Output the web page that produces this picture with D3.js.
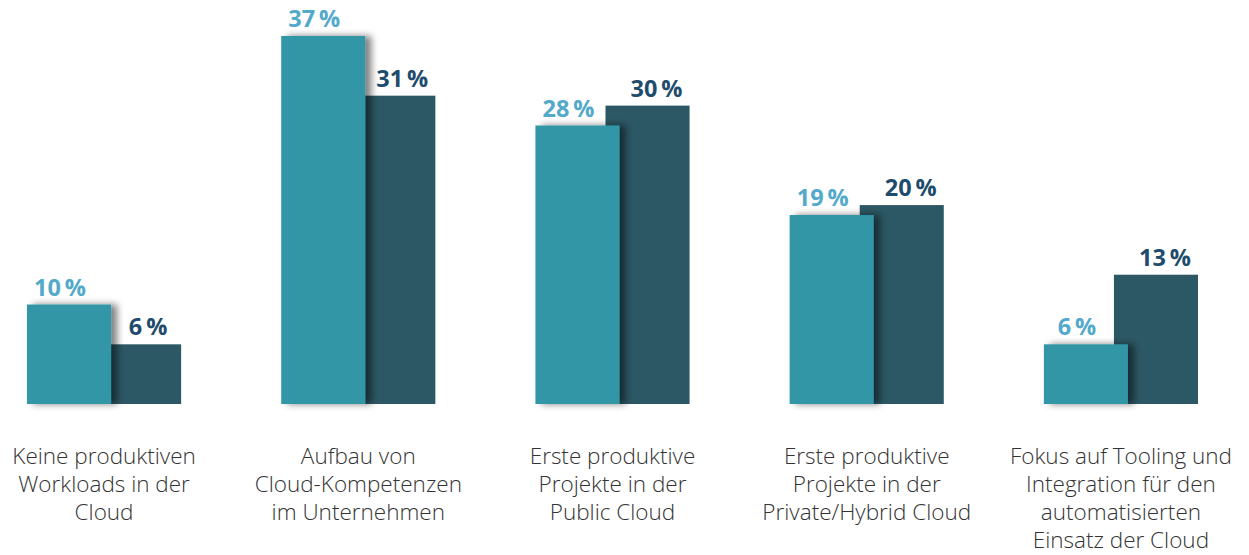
<!DOCTYPE html>
<html>
<head>
<meta charset="utf-8">
<script src="https://cdn.jsdelivr.net/npm/d3@7"></script>
<style>
  html, body { margin: 0; padding: 0; background: #fff; }
  svg { display: block; }
</style>
</head>
<body>
<svg id="chart" width="1249" height="555"></svg>
<script>
// Kategorien (Zeilen der Beschriftung)
const categories = [
  ["Keine produktiven", "Workloads in der", "Cloud"],
  ["Aufbau von", "Cloud-Kompetenzen", "im Unternehmen"],
  ["Erste produktive", "Projekte in der", "Public Cloud"],
  ["Erste produktive", "Projekte in der", "Private/Hybrid Cloud"],
  ["Fokus auf Tooling und", "Integration für den", "automatisierten", "Einsatz der Cloud"]
];
const series = ["a", "b"];
const valuesA = [10, 37, 28, 19, 6];
const valuesB = [6, 31, 30, 20, 13];

const colors = { a: "#3096a7", b: "#2c5764" };
const labelColors = { a: "#52a9c9", b: "#1f4c6d" };

const svg = d3.select("#chart");
const baseY = 404;

const keys = categories.map((c, i) => i);
const x0 = d3.scaleBand().domain(keys).range([27, 1198]).paddingInner(0.3937).paddingOuter(0);
const x1 = d3.scaleBand().domain(series).range([0, x0.bandwidth()]).paddingInner(-0.2);
const y = d3.scaleLinear().domain([0, 37]).range([baseY, 36]);

const defs = svg.append("defs");
const f = defs.append("filter").attr("id", "shadow")
  .attr("x", "-20%").attr("y", "-20%").attr("width", "160%").attr("height", "140%");
f.append("feDropShadow").attr("dx", 6).attr("dy", 0).attr("stdDeviation", 3.5)
  .attr("flood-color", "#000").attr("flood-opacity", 0.5);

const data = keys.map(i => ({ i, a: valuesA[i], b: valuesB[i] }));

const groups = svg.selectAll("g.group").data(data).join("g")
  .attr("class", "group")
  .attr("transform", d => `translate(${x0(d.i)},0)`);

// dunkle Balken zuerst, helle mit Schatten darüber
groups.append("rect")
  .attr("x", x1("b")).attr("width", x1.bandwidth())
  .attr("y", d => y(d.b)).attr("height", d => baseY - y(d.b))
  .attr("fill", colors.b);

groups.append("rect")
  .attr("x", x1("a")).attr("width", x1.bandwidth())
  .attr("y", d => y(d.a)).attr("height", d => baseY - y(d.a))
  .attr("fill", colors.a)
  .attr("filter", "url(#shadow)");

const fmt = v => v + "\u2009%";

groups.append("text")
  .attr("x", x1("a") + x1.bandwidth() / 2 - 9)
  .attr("y", d => y(d.a) - 9)
  .attr("text-anchor", "middle")
  .attr("font-family", "'Open Sans', sans-serif")
  .attr("font-weight", 700)
  .attr("font-size", 23.5)
  .attr("fill", labelColors.a)
  .text(d => fmt(d.a));

groups.append("text")
  .attr("x", x1("b") + x1.bandwidth() / 2 + 9)
  .attr("y", d => y(d.b) - 9)
  .attr("text-anchor", "middle")
  .attr("font-family", "'Open Sans', sans-serif")
  .attr("font-weight", 700)
  .attr("font-size", 23.5)
  .attr("fill", labelColors.b)
  .text(d => fmt(d.b));

// Kategorie-Beschriftungen
groups.append("text")
  .attr("text-anchor", "middle")
  .attr("font-family", "'Open Sans', sans-serif")
  .attr("font-weight", 300)
  .attr("font-size", 22.5)
  .attr("fill", "#333")
  .selectAll("tspan")
  .data(d => categories[d.i])
  .join("tspan")
  .attr("x", x0.bandwidth() / 2)
  .attr("y", (l, j) => 464 + j * 28)
  .text(l => l);
</script>
</body>
</html>
